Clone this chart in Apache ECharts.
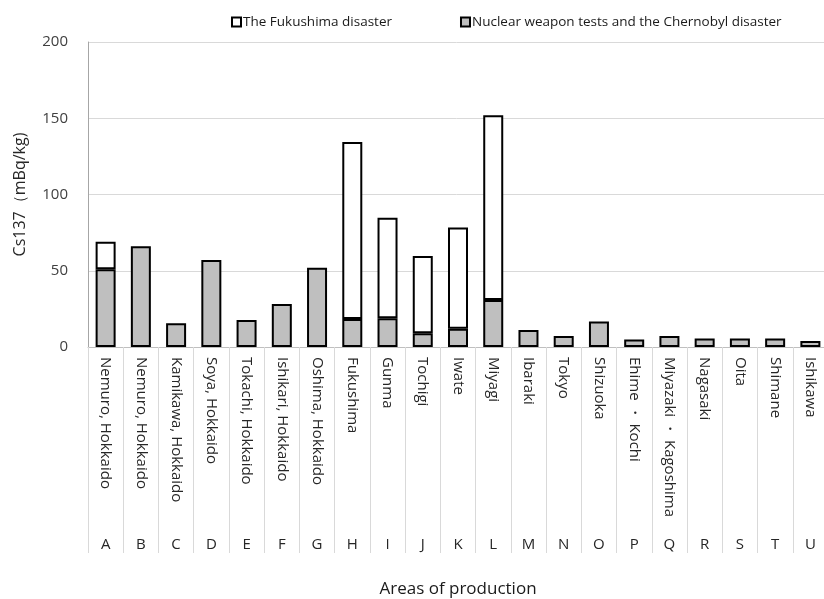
<!DOCTYPE html>
<html>
<head>
<meta charset="utf-8">
<script src="https://cdn.jsdelivr.net/npm/echarts@6/dist/echarts.min.js"></script>
<style>
html,body{margin:0;padding:0;background:#fff;}
#chart{width:824px;height:599px;}
</style>
</head>
<body>
<div id="chart"></div>
<script>
var areaNames = ["Nemuro, Hokkaido","Nemuro, Hokkaido","Kamikawa, Hokkaido","Soya, Hokkaido","Tokachi, Hokkaido","Ishikari, Hokkaido","Oshima, Hokkaido","Fukushima","Gunma","Tochigi","Iwate","Miyagi","Ibaraki","Tokyo","Shizuoka","Ehime \u30FB Kochi","Miyazaki \u30FB Kagoshima","Nagasaki","Oita","Shimane","Ishikawa"];
var areaCodes = ["A","B","C","D","E","F","G","H","I","J","K","L","M","N","O","P","Q","R","S","T","U"];
var nuclearChernobyl = [51,66,15.5,57,17.7,28.2,52,18.4,18.8,9,12,30.8,11.2,7.2,16.8,5,7.2,5.5,5.5,5.5,4];
var fukushima = [18,'-','-','-','-','-','-',116,66,50.7,66.3,121.2,'-','-','-','-','-','-','-','-','-'];
var yTicks = {min:0, max:200, interval:50};

var FONT = "Open Sans";
var chart = echarts.init(document.getElementById('chart'), null, {renderer:'canvas'});
chart.setOption({
  animation:false,
  backgroundColor:'#ffffff',
  textStyle:{fontFamily:FONT},
  legend:{
    top:10, left:226,
    icon:'rect',
    itemWidth:9, itemHeight:9, itemGap:68,
    textStyle:{fontFamily:FONT, fontSize:13.5, color:'#1a1a1a', padding:[0,0,0,-3]},
    data:['The Fukushima disaster','Nuclear weapon tests and the Chernobyl disaster']
  },
  grid:{left:88, top:42, width:740, height:305, outerBoundsMode:'none', containLabel:false},
  xAxis:[{
    type:'category',
    data:areaNames,
    axisLine:{show:true, lineStyle:{color:'#bfbfbf', width:1}},
    axisTick:{show:true, interval:0, length:206, lineStyle:{color:'#d9d9d9', width:1}},
    axisLabel:{interval:0, rotate:-90, margin:10, fontSize:15, color:'#262626', fontFamily:FONT}
  },{
    type:'category',
    data:areaCodes,
    position:'bottom',
    offset:185,
    axisLine:{show:false},
    axisTick:{show:false},
    axisLabel:{interval:0, margin:5, fontSize:15, color:'#262626', fontFamily:FONT},
    name:'Areas of production',
    nameLocation:'middle',
    nameGap:49,
    nameTextStyle:{fontSize:17, color:'#1a1a1a', fontFamily:FONT}
  }],
  yAxis:{
    type:'value',
    min:yTicks.min, max:yTicks.max, interval:yTicks.interval,
    axisLine:{show:true, lineStyle:{color:'#a6a6a6'}},
    axisTick:{show:false},
    splitLine:{lineStyle:{color:'#d9d9d9', width:1}},
    axisLabel:{fontSize:15, color:'#404040', margin:20, fontFamily:FONT},
    name:'Cs137\uFF08mBq/kg)',
    nameLocation:'middle',
    nameGap:60,
    nameTextStyle:{fontSize:16, color:'#262626', fontFamily:FONT}
  },
  series:[{
    name:'Nuclear weapon tests and the Chernobyl disaster',
    type:'bar', stack:'cs', xAxisIndex:0,
    barWidth:20,
    data:nuclearChernobyl,
    itemStyle:{color:'#bfbfbf', borderColor:'#000000', borderWidth:2}
  },{
    name:'The Fukushima disaster',
    type:'bar', stack:'cs', xAxisIndex:0,
    barWidth:20,
    data:fukushima,
    itemStyle:{color:'#ffffff', borderColor:'#000000', borderWidth:2}
  }]
});
</script>
</body>
</html>
